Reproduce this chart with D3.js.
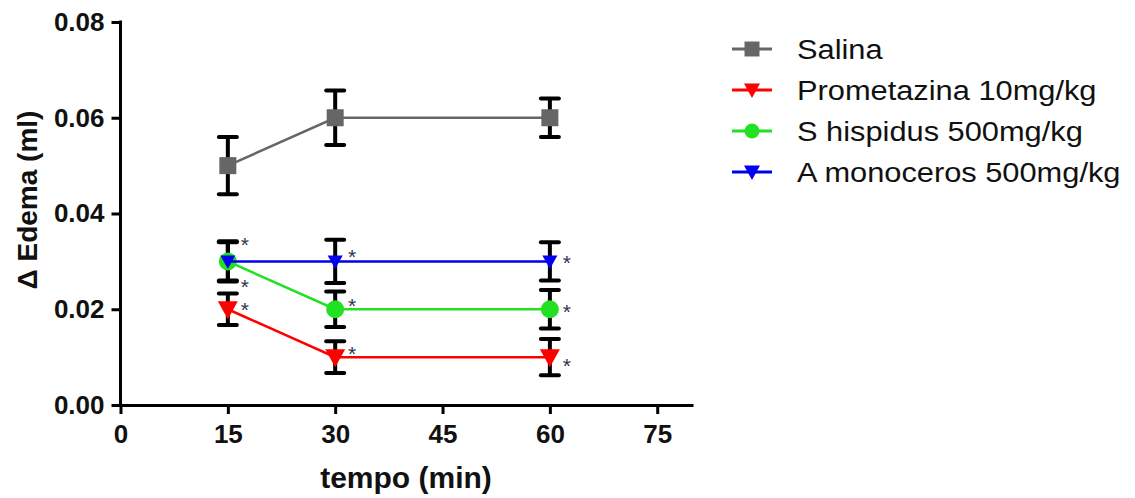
<!DOCTYPE html>
<html>
<head>
<meta charset="utf-8">
<script src="https://cdn.jsdelivr.net/npm/d3@7"></script>
<style>
  body { margin: 0; background: #fff; }
  text { font-family: Arial, "Liberation Sans", sans-serif; }
</style>
</head>
<body>
<script>
// Data
const times = [15, 30, 60];
const seriesNames = ["Salina", "Prometazina 10mg/kg", "S hispidus 500mg/kg", "A monoceros 500mg/kg"];
const salina = [0.050, 0.060, 0.060];
const salinaSem = [0.006, 0.0057, 0.004];
const prometazina = [0.020, 0.010, 0.010];
const prometazinaSem = [0.0033, 0.0033, 0.0038];
const hispidus = [0.030, 0.020, 0.020];
const hispidusSem = [0.004, 0.0037, 0.004];
const monoceros = [0.030, 0.030, 0.030];
const monocerosSem = [0.0042, 0.0045, 0.004];
// level (ml) at which each asterisk sits
const prometazinaStar = [0.0209, 0.0118, 0.0092];
const hispidusStar = [0.0256, 0.0218, 0.0205];
const monocerosStar = [0.0345, 0.032, 0.0308];
const xTicks = [0, 15, 30, 45, 60, 75];
const yTicks = [0, 0.02, 0.04, 0.06, 0.08];

const series = [
  {name: seriesNames[0], values: salina, sem: salinaSem, stars: null, color: "#666666", symbol: "square", size: 17},
  {name: seriesNames[1], values: prometazina, sem: prometazinaSem, stars: prometazinaStar, color: "#ff0000", symbol: "tri", size: 20},
  {name: seriesNames[2], values: hispidus, sem: hispidusSem, stars: hispidusStar, color: "#22e022", symbol: "circle", size: 18},
  {name: seriesNames[3], values: monoceros, sem: monocerosSem, stars: monocerosStar, color: "#0000ee", symbol: "tri", size: 15}
];

const svg = d3.select("body").append("svg")
  .attr("width", 1135)
  .attr("height", 498);

const x = d3.scaleLinear().domain([0, 80]).range([120.5, 693]);
const y = d3.scaleLinear().domain([0, 0.08]).range([405, 22]);

// Axes
const xAxis = svg.append("g")
  .attr("transform", "translate(0," + y(0) + ")")
  .call(d3.axisBottom(x).tickValues(xTicks).tickSize(9).tickPadding(11).tickSizeOuter(0));
const yAxis = svg.append("g")
  .attr("transform", "translate(" + x(0) + ",0)")
  .call(d3.axisLeft(y).tickValues(yTicks).tickFormat(d3.format(".2f")).tickSize(9).tickPadding(7).tickSizeOuter(0));

[xAxis, yAxis].forEach(a => {
  a.select(".domain").attr("stroke", "#000").attr("stroke-width", 3);
  a.selectAll(".tick line").attr("stroke", "#000").attr("stroke-width", 3);
  a.selectAll(".tick text")
    .attr("fill", "#111")
    .style("font-size", "26px")
    .style("font-weight", "bold");
});
yAxis.select(".domain").attr("d", "M0," + (y(0) + 1.5) + "V" + (y(0.08) - 1.5));

// Axis titles
svg.append("text")
  .attr("x", 406)
  .attr("y", 488)
  .attr("text-anchor", "middle")
  .style("font-size", "30px")
  .style("font-weight", "bold")
  .attr("fill", "#111")
  .text("tempo (min)");

svg.append("text")
  .attr("transform", "translate(37," + 200 + ") rotate(-90)")
  .attr("text-anchor", "middle")
  .style("font-size", "28px")
  .style("font-weight", "bold")
  .attr("fill", "#111")
  .text("\u0394 Edema (ml)");

// symbol path
function symbolPath(s) {
  const h = s.size / 2;
  if (s.symbol === "square") return "M" + (-h) + "," + (-h) + "h" + s.size + "v" + s.size + "h" + (-s.size) + "Z";
  if (s.symbol === "tri") return "M" + (-h) + "," + (-h * 0.8) + "L" + h + "," + (-h * 0.8) + "L0," + (h * 1.0) + "Z";
  return d3.symbol().type(d3.symbolCircle).size(Math.PI * h * h)();
}

const line = d3.line().x((d, i) => x(times[i])).y(d => y(d));

// Error bars
series.forEach(s => {
  const g = svg.append("g").attr("stroke", "#000").attr("stroke-width", 4).attr("stroke-linecap", "round");
  s.values.forEach((v, i) => {
    const cx = x(times[i]);
    g.append("line").attr("x1", cx).attr("x2", cx).attr("y1", y(v + s.sem[i])).attr("y2", y(v - s.sem[i])).attr("stroke-linecap", "butt");
    [v + s.sem[i], v - s.sem[i]].forEach(e => {
      g.append("line").attr("x1", cx - 9).attr("x2", cx + 9).attr("y1", y(e)).attr("y2", y(e));
    });
  });
});

// Lines and markers
series.forEach(s => {
  svg.append("path")
    .datum(s.values)
    .attr("d", line)
    .attr("fill", "none")
    .attr("stroke", s.color)
    .attr("stroke-width", 2.5);
  svg.selectAll(null)
    .data(s.values)
    .enter().append("path")
    .attr("transform", (d, i) => "translate(" + x(times[i]) + "," + y(d) + ")")
    .attr("d", symbolPath(s))
    .attr("fill", s.color);
});

// Significance asterisks
series.filter(s => s.stars).forEach(s => {
  svg.selectAll(null)
    .data(s.stars)
    .enter().append("text")
    .attr("x", (d, i) => x(times[i]) + 17)
    .attr("y", d => y(d) + 12)
    .attr("text-anchor", "middle")
    .style("font-size", "21px")
    .attr("fill", "#2f3448")
    .text("*");
});

// Legend
const legend = svg.append("g")
  .selectAll("g")
  .data(series)
  .enter().append("g")
  .attr("transform", (d, i) => "translate(752," + (49 + i * 41) + ")");

legend.append("line")
  .attr("x1", -20).attr("x2", 20)
  .attr("stroke", d => d.color)
  .attr("stroke-width", 3);

legend.append("path")
  .attr("d", d => symbolPath({symbol: d.symbol, size: d.symbol === "tri" ? 16 : 15}))
  .attr("fill", d => d.color);

legend.append("text")
  .attr("transform", "translate(45,10) scale(1.1,1)")
  .style("font-size", "28px")
  .attr("fill", "#111")
  .text(d => d.name);
</script>
</body>
</html>
